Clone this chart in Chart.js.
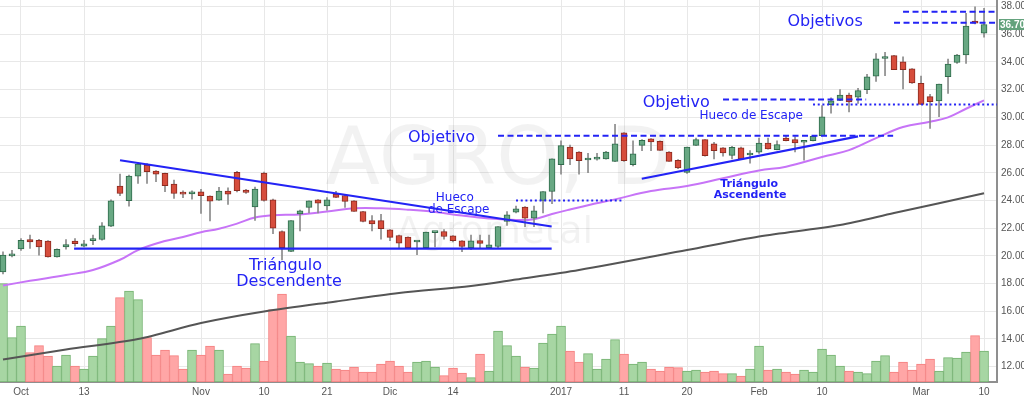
<!DOCTYPE html>
<html lang="es">
<head>
    <meta charset="UTF-8">
    <title>AGRO - Agrometal, diario</title>
    <script src="https://cdn.jsdelivr.net/npm/chart.js"></script>
    <style>
        html, body {
            margin: 0;
            padding: 0;
            background-color: #fff;
        }
        .chart-container {
            position: relative;
            width: 1024px;
            height: 397px;
        }
    </style>
</head>
<body>
    <div class="chart-container">
        <canvas id="agroChart"></canvas>
    </div>
    <script>
        // daily bars, 29 Sep 2016 .. 10 Mar 2017 (index = trading day)
        const opens = [18.85, 20.0, 20.5, 21.18, 21.13, 21.06, 19.93, 20.65, 21.06, 20.7,
            21.1, 21.18, 22.14, 25.04, 23.98, 25.76, 26.55, 26.12, 25.95, 25.18,
            24.58, 24.48, 24.63, 24.31, 24.02, 24.67, 26.03, 24.75, 23.53, 25.98,
            24.05, 21.76, 20.32, 23.02, 23.5, 24.05, 23.6, 24.46, 24.36, 23.98,
            23.2, 22.54, 22.54, 21.88, 21.47, 21.36, 21.0, 20.6, 21.68, 21.76,
            21.45, 21.09, 20.6, 21.1, 20.6, 20.68, 22.48, 23.16, 23.52, 22.73,
            24.0, 24.65, 26.58, 27.86, 27.5, 26.92, 26.98, 27.0, 26.82, 28.88,
            26.58, 27.98, 28.44, 28.27, 27.5, 26.89, 26.03, 27.98, 28.39, 28.08,
            27.8, 27.26, 27.8, 27.28, 27.48, 28.15, 27.67, 28.51, 28.39, 28.2,
            28.32, 28.68, 30.92, 31.23, 31.6, 31.45, 32.0, 32.97, 34.25, 34.46,
            34.0, 33.5, 32.45, 31.49, 31.18, 32.93, 33.97, 34.5, 36.95, 36.07];
        const highs = [20.3, 20.4, 21.25, 21.5, 21.2, 21.1, 20.5, 21.18, 21.25, 21.13,
            21.5, 22.4, 24.05, 25.9, 25.83, 26.72, 26.67, 26.15, 25.97, 25.47,
            24.7, 24.7, 24.8, 24.33, 24.94, 24.92, 26.1, 24.8, 24.97, 26.05,
            24.1, 21.8, 22.54, 23.3, 23.98, 24.07, 24.2, 24.66, 24.45, 24.0,
            23.22, 22.9, 23.0, 21.9, 21.5, 21.38, 21.04, 21.72, 21.72, 21.9,
            21.47, 21.1, 21.5, 21.5, 21.5, 22.12, 23.2, 23.6, 23.55, 23.6,
            24.65, 27.0, 28.3, 28.0, 27.52, 27.4, 27.4, 27.55, 29.5, 28.9,
            28.3, 28.4, 28.46, 28.3, 27.52, 26.95, 27.86, 28.5, 28.4, 28.2,
            27.82, 27.9, 27.85, 27.6, 28.5, 28.5, 28.3, 28.68, 28.6, 28.25,
            28.68, 30.85, 31.4, 32.0, 31.75, 32.1, 33.1, 34.6, 34.7, 34.48,
            34.37, 33.52, 32.98, 31.66, 32.4, 34.2, 34.54, 37.5, 37.98, 37.87];
        const lows = [18.7, 19.93, 20.4, 20.54, 20.05, 19.9, 19.9, 20.48, 20.7, 20.65,
            20.8, 21.13, 22.1, 24.34, 23.59, 25.23, 25.23, 25.35, 24.63, 24.14,
            24.2, 24.1, 23.06, 22.53, 24.0, 23.71, 24.62, 24.5, 22.56, 23.95,
            21.6, 19.7, 20.3, 21.8, 23.1, 23.1, 23.3, 24.2, 23.5, 23.2,
            22.45, 21.8, 21.2, 21.1, 20.6, 20.58, 20.08, 20.58, 20.65, 21.2,
            21.0, 20.3, 20.44, 20.6, 20.55, 20.6, 22.2, 23.1, 22.1, 22.1,
            23.1, 23.76, 25.9, 26.58, 25.9, 26.0, 26.9, 26.98, 26.8, 26.82,
            26.5, 27.6, 27.6, 27.62, 26.82, 26.3, 25.95, 27.95, 27.2, 27.0,
            27.2, 27.0, 27.0, 26.7, 27.4, 27.7, 27.65, 28.3, 27.5, 26.9,
            28.3, 28.65, 30.3, 31.2, 30.4, 31.0, 31.7, 32.6, 33.0, 33.45,
            32.05, 32.45, 30.94, 29.2, 30.05, 31.73, 33.9, 33.9, 36.75, 35.78];
        const closes = [20.05, 20.15, 21.13, 21.0, 20.65, 19.93, 20.48, 20.82, 20.89, 20.87,
            21.23, 22.17, 23.98, 24.5, 25.76, 26.63, 26.07, 25.9, 25.06, 24.5,
            24.46, 24.63, 24.34, 23.95, 24.67, 24.46, 24.7, 24.58, 24.83, 24.0,
            22.0, 20.6, 22.54, 23.26, 23.98, 23.8, 24.05, 24.22, 23.93, 23.2,
            22.48, 22.3, 21.96, 21.33, 20.92, 20.6, 21.04, 21.72, 21.72, 21.4,
            21.1, 20.68, 21.09, 20.9, 20.8, 22.12, 22.97, 23.4, 22.73, 23.26,
            24.65, 27.0, 27.96, 27.0, 26.87, 26.96, 27.02, 27.5, 28.08, 26.87,
            27.36, 28.34, 28.22, 27.62, 26.82, 26.34, 27.86, 28.39, 27.23, 27.6,
            27.43, 27.84, 27.0, 27.32, 28.15, 27.72, 28.03, 28.32, 28.15, 28.24,
            28.63, 30.03, 31.2, 31.6, 31.12, 31.93, 32.92, 34.23, 34.37, 33.45,
            33.45, 32.49, 30.94, 31.13, 32.4, 33.85, 34.5, 36.59, 36.79, 36.7];
        // volume, thousands of shares
        const volumes = [492, 222, 279, 147, 182, 129, 79, 134, 79, 64,
            129, 217, 279, 422, 454, 412, 222, 134, 159, 132,
            64, 159, 134, 179, 159, 39, 79, 69, 192, 104,
            362, 439, 229, 99, 92, 79, 95, 64, 59, 75,
            49, 49, 89, 104, 79, 49, 99, 104, 75, 32,
            69, 44, 22, 139, 55, 255, 182, 129, 75, 69,
            195, 239, 279, 154, 99, 142, 64, 115, 212, 139,
            89, 99, 64, 55, 75, 72, 54, 59, 49, 54,
            42, 42, 29, 64, 179, 59, 64, 49, 39, 59,
            49, 164, 135, 79, 54, 49, 42, 104, 132, 49,
            99, 59, 89, 115, 54, 122, 119, 149, 232, 154];

        // moving averages, read at some bars
        const fastMaIdx = [0, 3, 7, 10, 13, 15, 18, 20, 22, 24, 26, 28, 30, 33, 36, 39, 42, 45, 48, 51,
            54, 57, 59, 61, 63, 65, 68, 72, 76, 80, 84, 87, 91, 94, 97, 100, 103, 105, 107, 109];
        const fastMaVal = [17.86, 18.2, 18.62, 18.98, 19.72, 20.42, 21.07, 21.36, 21.71, 21.96, 22.33, 22.77, 22.94, 22.99, 23.21, 23.43, 23.43, 23.33, 23.17, 22.91,
            22.7, 22.59, 22.65, 23.02, 23.35, 23.66, 24.08, 24.68, 25.04, 25.6, 26.16, 26.44, 27.14, 27.63, 28.5, 29.3, 29.68, 30.0, 30.62, 31.23];
        const slowMaIdx = [0, 7, 15, 22, 29, 37, 44, 52, 57, 64, 76, 84, 93, 99, 109];
        const slowMaVal = [12.52, 13.24, 14.0, 15.15, 15.98, 16.71, 17.32, 17.82, 18.29, 18.98, 20.42, 21.4, 22.23, 23.09, 24.52];

        const tickIndex = [2, 9, 22, 29, 36, 43, 50, 62, 69, 76, 84, 91, 102, 109];
        const tickLabels = ['Oct', '13', 'Nov', '10', '21', 'Dic', '14', '2017', '11', '20', 'Feb', '10', 'Mar', '10'];
        const priceTicks = [12, 14, 16, 18, 20, 22, 24, 26, 28, 30, 32, 34, 36, 38];

        // hand drawn analysis: [bar from, price from, bar to, price to]
        const trendLines = [[13.0, 26.9, 60.96, 22.12], [7.9, 20.53, 60.96, 20.53], [70.97, 25.57, 95.0, 28.63]];
        const targetLines = [[55.0, 28.68, 98.9, 28.68], [80.0, 31.28, 95.9, 31.28], [99.0, 36.83, 111, 36.83], [100.0, 37.63, 111, 37.63]];
        const gapLines = [[57.0, 24.0, 68.9, 24.0], [90.0, 30.92, 111, 30.92]];
        const notes = [
            { text: 'Objetivo', x: 45.0, p: 28.2, kind: 'big', align: 'left' },
            { text: 'Objetivo', x: 71.08, p: 30.77, kind: 'big', align: 'left' },
            { text: 'Objetivos', x: 87.15, p: 36.62, kind: 'big', align: 'left' },
            { text: 'Hueco', x: 50.2, p: 23.96, kind: 'small', align: 'center' },
            { text: 'de Escape', x: 50.63, p: 23.06, kind: 'small', align: 'center' },
            { text: 'Hueco de Escape', x: 83.13, p: 29.86, kind: 'small', align: 'center' },
            { text: 'Triángulo', x: 31.39, p: 18.98, kind: 'big', align: 'center' },
            { text: 'Descendente', x: 31.78, p: 17.83, kind: 'big', align: 'center' },
            { text: 'Triángulo', x: 82.9, p: 24.94, kind: 'bold', align: 'center' },
            { text: 'Ascendente', x: 83.0, p: 24.15, kind: 'bold', align: 'center' }
        ];

        const BLUE = '#2323f5';
        const noteFonts = {
            big: '16px "DejaVu Sans"',
            small: '12px "DejaVu Sans"',
            bold: 'bold 11px "DejaVu Sans"'
        };
        const isUp = i => closes[i] >= opens[i];

        const drawings = {
            id: 'drawings',
            beforeDatasetsDraw(chart) {
                const { ctx, chartArea: a } = chart;
                const cx = (a.left + a.right) / 2;
                const cy = (a.top + a.bottom) / 2;
                ctx.save();
                ctx.fillStyle = 'rgba(0, 0, 0, 0.05)';
                ctx.textAlign = 'center';
                ctx.font = '80px "DejaVu Sans"';
                ctx.fillText('AGRO, D', cx, cy - 7);
                ctx.font = '38px "DejaVu Sans"';
                ctx.fillText('Agrometal', cx - 4, cy + 52);
                ctx.restore();
            },
            afterDatasetsDraw(chart) {
                const { ctx, chartArea: a, scales: { x, y } } = chart;
                ctx.save();
                ctx.beginPath();
                ctx.rect(a.left, a.top, a.right - a.left, a.bottom - a.top);
                ctx.clip();
                ctx.strokeStyle = BLUE;
                const stroke = (list, width, dash) => {
                    ctx.lineWidth = width;
                    ctx.setLineDash(dash);
                    list.forEach(l => {
                        ctx.beginPath();
                        ctx.moveTo(x.getPixelForValue(l[0]), y.getPixelForValue(l[1]));
                        ctx.lineTo(x.getPixelForValue(l[2]), y.getPixelForValue(l[3]));
                        ctx.stroke();
                    });
                };
                stroke(trendLines, 2.2, []);
                stroke(targetLines, 2, [6, 3.5]);
                stroke(gapLines, 2, [2, 2.7]);
                ctx.setLineDash([]);

                ctx.fillStyle = BLUE;
                ctx.textBaseline = 'alphabetic';
                notes.forEach(n => {
                    ctx.font = noteFonts[n.kind];
                    ctx.textAlign = n.align;
                    ctx.fillText(n.text, x.getPixelForValue(n.x), y.getPixelForValue(n.p));
                });
                ctx.restore();

                // last price tag on the axis
                const last = closes.length - 1;
                const py = y.getPixelForValue(closes[last]);
                ctx.save();
                ctx.fillStyle = '#63a27c';
                ctx.fillRect(a.right + 2, py - 5.5, chart.width - a.right, 11);
                ctx.fillStyle = '#fff';
                ctx.font = 'bold 10px "Liberation Sans"';
                ctx.textBaseline = 'middle';
                ctx.textAlign = 'left';
                ctx.fillText(closes[last].toFixed(2), a.right + 3, py + 0.5);
                ctx.restore();
            }
        };

        const axisFont = { family: 'Liberation Sans', size: 10 };

        const ctx = document.getElementById('agroChart').getContext('2d');
        const chart = new Chart(ctx, {
            type: 'bar',
            data: {
                datasets: [
                    {
                        label: 'Cuerpo',
                        data: opens.map((o, i) => ({ x: i, y: [o, closes[i]] })),
                        backgroundColor: c => isUp(c.dataIndex) ? '#68a883' : '#d64d3c',
                        borderColor: c => isUp(c.dataIndex) ? '#2f6b4b' : '#8c2b20',
                        borderWidth: 1,
                        borderSkipped: false,
                        barThickness: 6,
                        minBarLength: 2,
                        grouped: false,
                        yAxisID: 'y',
                        order: 0
                    },
                    {
                        label: 'Mecha',
                        data: lows.map((l, i) => ({ x: i, y: [l, highs[i]] })),
                        backgroundColor: '#8a8a8a',
                        borderWidth: 0,
                        barThickness: 1,
                        grouped: false,
                        yAxisID: 'y',
                        order: 1
                    },
                    {
                        type: 'line',
                        label: 'Media corta',
                        data: fastMaIdx.map((v, i) => ({ x: v, y: fastMaVal[i] })),
                        borderColor: '#c774f7',
                        borderWidth: 2,
                        pointRadius: 0,
                        tension: 0.4,
                        yAxisID: 'y',
                        order: 2
                    },
                    {
                        type: 'line',
                        label: 'Media larga',
                        data: slowMaIdx.map((v, i) => ({ x: v, y: slowMaVal[i] })),
                        borderColor: '#555555',
                        borderWidth: 2,
                        pointRadius: 0,
                        tension: 0.3,
                        yAxisID: 'y',
                        order: 3
                    },
                    {
                        label: 'Volumen',
                        data: volumes.map((v, i) => ({ x: i, y: v })),
                        backgroundColor: c => isUp(c.dataIndex) ? '#a7d6a3' : '#ffa6a6',
                        borderColor: c => isUp(c.dataIndex) ? '#74b270' : '#f47f7f',
                        borderWidth: 1,
                        borderSkipped: false,
                        categoryPercentage: 1,
                        barPercentage: 1,
                        grouped: false,
                        yAxisID: 'yv',
                        order: 4
                    }
                ]
            },
            options: {
                responsive: true,
                maintainAspectRatio: false,
                animation: false,
                layout: { padding: 0, autoPadding: false },
                plugins: {
                    legend: { display: false },
                    tooltip: { enabled: false }
                },
                scales: {
                    x: {
                        type: 'linear',
                        min: -0.333,
                        max: 110.44,
                        offset: false,
                        bounds: 'data',
                        grid: { color: '#e8e8e8', offset: false, drawTicks: false },
                        border: { color: '#8f8f8f', width: 2 },
                        ticks: {
                            autoSkip: false,
                            maxRotation: 0,
                            padding: 4,
                            color: '#555',
                            font: axisFont,
                            callback: v => {
                                const k = tickIndex.indexOf(v);
                                return k >= 0 ? tickLabels[k] : '';
                            }
                        },
                        afterBuildTicks: s => { s.ticks = tickIndex.map(v => ({ value: v })); },
                        afterFit: s => { s.height = 15; s.paddingLeft = 0; s.paddingRight = 0; }
                    },
                    y: {
                        type: 'linear',
                        position: 'right',
                        min: 10.896,
                        max: 38.47,
                        bounds: 'data',
                        grid: { color: '#e8e8e8', drawTicks: false },
                        border: { color: '#8f8f8f', width: 2 },
                        ticks: {
                            padding: 4,
                            color: '#555',
                            font: axisFont,
                            callback: v => v.toFixed(2)
                        },
                        afterBuildTicks: s => { s.ticks = priceTicks.map(v => ({ value: v })); },
                        afterFit: s => { s.width = 27; s.paddingTop = 0; s.paddingBottom = 0; }
                    },
                    yv: {
                        type: 'linear',
                        display: false,
                        min: 0,
                        max: 1910
                    }
                }
            },
            plugins: [drawings]
        });
    </script>
</body>
</html>
